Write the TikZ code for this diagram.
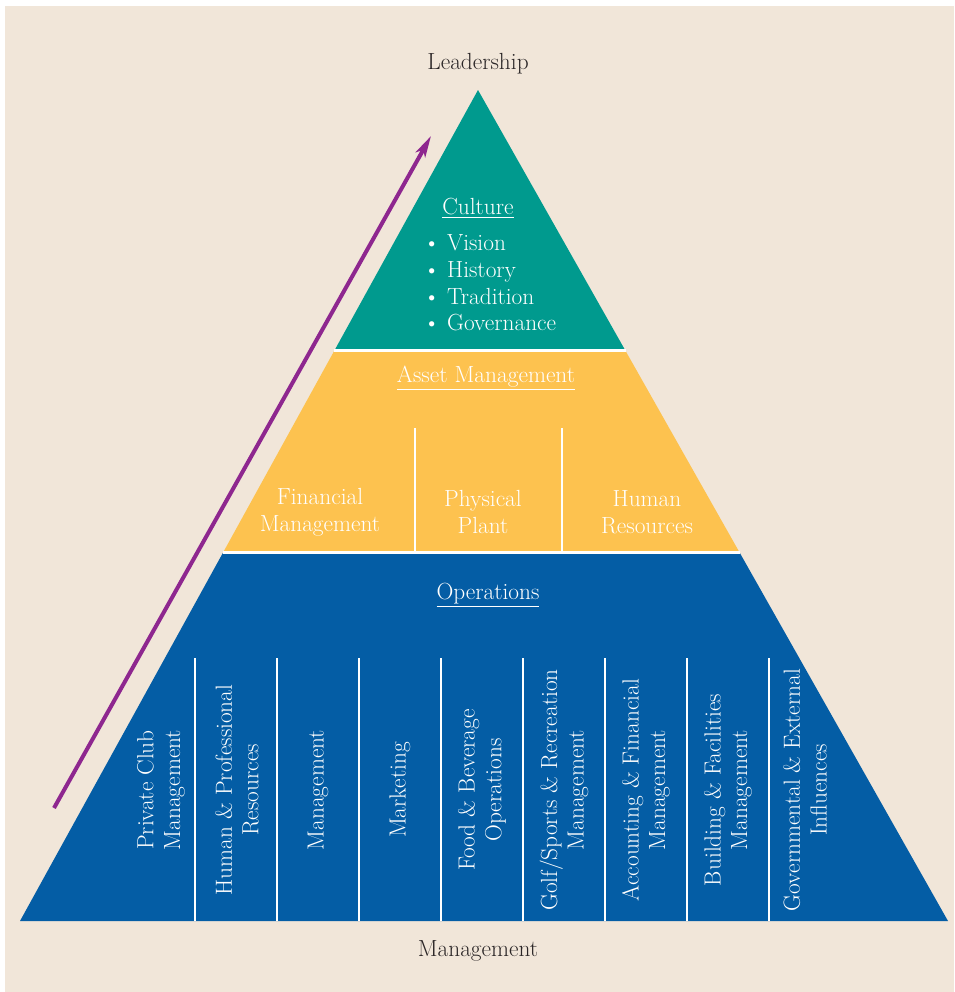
\documentclass[tikz,border=0pt]{standalone}
\usetikzlibrary{arrows.meta,calc}

\definecolor{fondo}{HTML}{F1E6D9}
\definecolor{verde}{HTML}{009A8E}
\definecolor{amarillo}{HTML}{FDC24F}
\definecolor{azul}{HTML}{045DA5}
\definecolor{morado}{HTML}{8E278F}
\definecolor{tinta}{HTML}{2A2526}

\begin{document}
\begin{tikzpicture}[x=0.75pt, y=-0.75pt,
      etq/.style={font=\fontsize{17.5}{20}\selectfont, text=white, align=center, inner sep=0pt},
      col/.style={etq, rotate=90},
      titulo/.style={font=\fontsize{17.5}{20}\selectfont, text=tinta, inner sep=0pt},
      sep/.style={draw=white, line width=2.2pt},
      div/.style={draw=white, line width=1.8pt},
      flecha/.style={-{Stealth[length=16pt, width=8pt, inset=4pt]}, draw=morado, line width=3pt}
    ]
    \useasboundingbox (0,0) rectangle (954,992);
    \fill[fondo] (5,6) rectangle (954,992);
    % corners of the pyramid
    \coordinate (apex) at (478,90);
    \coordinate (bl) at (20,921);
    \coordinate (br) at (948,921);
    \coordinate (l1) at ($(apex)!0.314!(bl)$);
    \coordinate (r1) at ($(apex)!0.314!(br)$);
    \coordinate (l2) at ($(apex)!0.557!(bl)$);
    \coordinate (r2) at ($(apex)!0.557!(br)$);
    \fill[verde] (apex) -- (r1) -- (l1) -- cycle;
    \fill[amarillo] (l1) -- (r1) -- (r2) -- (l2) -- cycle;
    \fill[azul] (l2) -- (r2) -- (br) -- (bl) -- cycle;
    \draw[sep] (l1) -- (r1);
    \draw[sep] (l2) -- (r2);
    \foreach \x in {415,562} { \draw[div] (\x,428) -- (\x,552); }
    \foreach \x in {195,277,...,769} { \draw[div] (\x,658) -- (\x,921); }
    % arrow
    \coordinate (ini) at (54,808);
    \coordinate (fin) at (431,136);
    \draw[flecha] (ini) -- (fin);
    % labels
    \node[titulo] (lead) at (478,64) {Leadership};
    \node[titulo] (mgmt) at (478,951) {Management};
    \node[etq] (cult) at (478,208) {\underline{Culture}};
    \node[etq, align=left, anchor=west] (lista) at (423,283)
      {\textbullet\ Vision\\\textbullet\ History\\\textbullet\ Tradition\\\textbullet\ Governance};
    \node[etq] (asset) at (486,378) {\underline{Asset Management}};
    \node[etq] (fin1) at (320,512) {Financial\\Management};
    \node[etq] (fin2) at (483,512) {Physical\\Plant};
    \node[etq] (fin3) at (647,512) {Human\\Resources};
    \node[etq] (ops) at (488,595) {\underline{Operations}};
    \node[col] (c1) at (161,790) {Private Club\\Management};
    \node[col] (c2) at (237,790) {Human \& Professional\\Resources};
    \node[col] (c3) at (318,790) {Management};
    \node[col] (c4) at (400,790) {Marketing};
    \node[col] (c5) at (482,790) {Food \& Beverage\\Operations};
    \node[col] (c6) at (564,790) {Golf/Sports \& Recreation\\Management};
    \node[col] (c7) at (646,790) {Accounting \& Financial\\Management};
    \node[col] (c8) at (728,790) {Building \& Facilities\\Management};
    \node[col] (c9) at (805,790) {Governmental \& External\\Influences};
  \end{tikzpicture}
\end{document}
